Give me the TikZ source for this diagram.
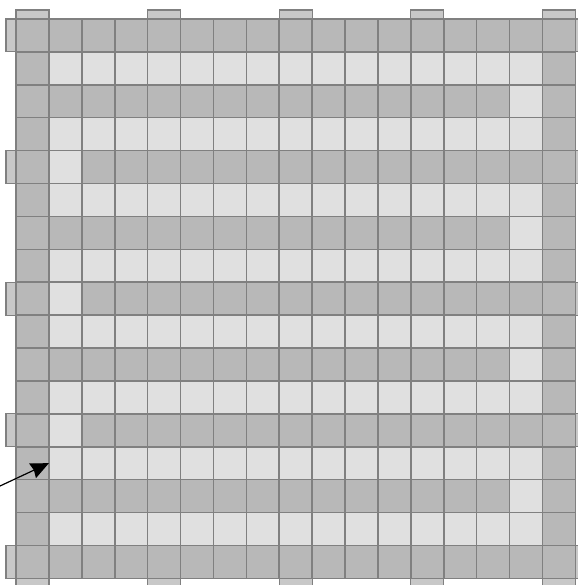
\documentclass[tikz,border=0pt]{standalone}
\usetikzlibrary{arrows.meta}
\definecolor{darkcell}{HTML}{B8B8B8}
\definecolor{lightcell}{HTML}{E0E0E0}
\definecolor{tabcell}{HTML}{C8C8C8}
\definecolor{cellline}{HTML}{808080}
\begin{document}
\begin{tikzpicture}[x=1pt,y=-1pt,
  cell/.style={draw=cellline, line width=1.6pt, minimum size=32.9pt, inner sep=0pt, outer sep=0pt, anchor=north west},
  tab/.style={draw=cellline, fill=tabcell, line width=1.2pt},
  pointer/.style={draw=black, line width=1.2pt, -{Stealth[length=18pt,width=16pt,inset=1.5pt]}}]
\useasboundingbox (0,0) rectangle (577,585);
% tabs
\foreach \k in {0,4,8,12,16}{
  \pgfmathsetmacro\a{16+32.9*\k}
  \pgfmathsetmacro\b{16+32.9*(\k+1)}
  \pgfmathsetmacro\c{19+32.9*\k}
  \pgfmathsetmacro\d{19+32.9*(\k+1)}
  \draw[tab] (\a,10) rectangle (\b,19.5);
  \draw[tab] (\a,578) rectangle (\b,590);
  \draw[tab] (6,\c) rectangle (16.5,\d);
  \draw[tab] (575,\c) rectangle (586,\d);
}
% cells
\foreach \i in {0,...,16}{
  \foreach \j in {0,...,16}{
    \pgfmathtruncatemacro\inside{(\i>0)*(\i<16)*(\j>0)*(\j<16)}
    \pgfmathtruncatemacro\pat{(mod(\j,2)==1) + (mod(\j,4)==2)*(\i==15) + (mod(\j,4)==0)*(\i==1)}
    \pgfmathtruncatemacro\lt{\inside*\pat}
    \ifnum\lt>0 \def\fc{lightcell}\else\def\fc{darkcell}\fi
    \node[cell, fill=\fc] (c-\i-\j) at ({16+32.9*\i},{19+32.9*\j}) {};
  }
}
\coordinate (start) at (0,486);
\draw[pointer] (start) -- (c-1-13.west);
\end{tikzpicture}
\end{document}
